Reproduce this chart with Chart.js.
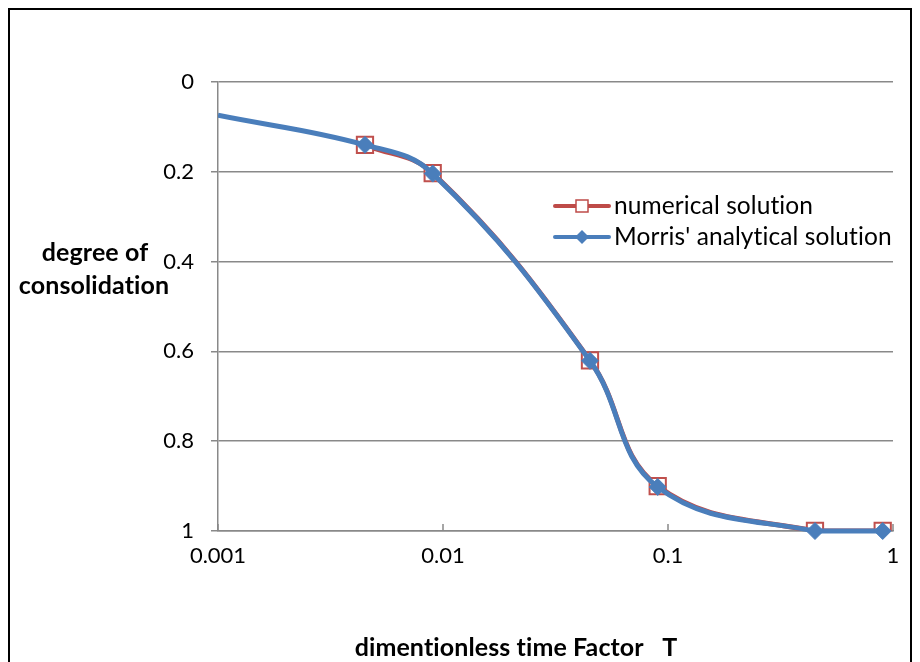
<!DOCTYPE html>
<html>
<head>
<meta charset="utf-8">
<script src="https://cdn.jsdelivr.net/npm/chart.js@4.4.0/dist/chart.umd.min.js"></script>
<style>
  html, body { margin: 0; padding: 0; background: #fff; overflow: hidden; }
  #wrap { position: relative; width: 920px; height: 662px; }
  #frame { position: absolute; left: 8px; top: 8px; width: 904px; height: 700px; border: 2px solid #000; box-sizing: border-box; }
  canvas { position: absolute; left: 0; top: 0; }
</style>
</head>
<body>
<div id="wrap">
  <div id="frame"></div>
  <canvas id="chart" width="920" height="662"></canvas>
</div>
<script>
// dimensionless time factor T and degree of consolidation U
const timeFactor = [0.0045, 0.009, 0.045, 0.09, 0.45, 0.9];
const numerical = [0.14, 0.203, 0.62, 0.9, 1.0, 1.0];
const morrisT = [0.001, 0.0045, 0.009, 0.045, 0.09, 0.45, 0.9];
const morris = [0.074, 0.14, 0.204, 0.621, 0.902, 1.0, 1.0];
const xTicks = [0.001, 0.01, 0.1, 1];
const xTickLabels = ['0.001', '0.01', '0.1', '1'];
const legendLabels = ['numerical solution', "Morris' analytical solution"];

const RED = '#BE4B48';
const BLUE = '#4A7EBB';
const GRID = '#898989';
const FONT = 'Lato';

const toPoints = (xs, ys) => xs.map((x, i) => ({ x: x, y: ys[i] }));

const extras = {
  id: 'extras',
  afterDraw(chart) {
    const ctx = chart.ctx;
    const x = chart.scales.x;
    const area = chart.chartArea;
    ctx.save();
    // tick marks on the x axis point into the plot
    ctx.strokeStyle = GRID;
    ctx.lineWidth = 1.5;
    xTicks.forEach(v => {
      const px = Math.round(x.getPixelForValue(v));
      ctx.beginPath();
      ctx.moveTo(px, area.bottom);
      ctx.lineTo(px, area.bottom - 7);
      ctx.stroke();
    });

    // axis titles (letter spacing keeps the "ti" ligature off)
    ctx.letterSpacing = '0.1px';
    ctx.fillStyle = '#000';
    ctx.textAlign = 'center';
    ctx.textBaseline = 'middle';
    ctx.font = 'bold 25px ' + FONT;
    ctx.fillText('degree of', 95, 253);
    ctx.fillText('consolidation', 94, 286);
    ctx.fillText('dimentionless time Factor   T', 516, 648);

    // legend
    ctx.font = '24.5px ' + FONT;
    ctx.textAlign = 'left';
    const rows = [
      { y: 206, color: RED, marker: 'rect' },
      { y: 237, color: BLUE, marker: 'diamond' }
    ];
    rows.forEach((r, i) => {
      ctx.strokeStyle = r.color;
      ctx.lineWidth = 4;
      ctx.lineCap = 'round';
      ctx.beginPath();
      ctx.moveTo(555, r.y);
      ctx.lineTo(609, r.y);
      ctx.stroke();
      if (r.marker === 'rect') {
        ctx.fillStyle = '#fff';
        ctx.fillRect(576, r.y - 6, 12, 12);
        ctx.lineWidth = 1.5;
        ctx.strokeRect(576, r.y - 6, 12, 12);
      } else {
        ctx.fillStyle = r.color;
        ctx.beginPath();
        ctx.moveTo(582, r.y - 7);
        ctx.lineTo(589, r.y);
        ctx.lineTo(582, r.y + 7);
        ctx.lineTo(575, r.y);
        ctx.closePath();
        ctx.fill();
      }
      ctx.fillStyle = '#000';
      ctx.fillText(legendLabels[i], 614, r.y);
    });
    ctx.restore();
  }
};

new Chart(document.getElementById('chart').getContext('2d'), {
  type: 'line',
  data: {
    datasets: [
      {
        label: legendLabels[0],
        data: toPoints(timeFactor, numerical),
        borderColor: RED,
        borderWidth: 5,
        tension: 0.4,
        pointStyle: 'rect',
        pointRadius: 11.5,
        pointBorderWidth: 2,
        pointBorderColor: '#C0504D',
        pointBackgroundColor: '#fff',
        order: 2
      },
      {
        label: legendLabels[1],
        data: toPoints(morrisT, morris),
        borderColor: BLUE,
        borderWidth: 5,
        tension: 0.4,
        pointStyle: 'rectRot',
        pointRadius: ctx => ctx.dataIndex === 0 ? 0 : 8.5,
        pointBorderWidth: 1,
        pointBorderColor: BLUE,
        pointBackgroundColor: BLUE,
        clip: { left: 0, top: 12, right: 12, bottom: 12 },
        order: 1
      }
    ]
  },
  options: {
    responsive: false,
    animation: false,
    devicePixelRatio: 1,
    layout: { padding: { top: 82, right: 27, left: 0, bottom: 0 } },
    plugins: {
      legend: { display: false },
      tooltip: { enabled: false }
    },
    scales: {
      x: {
        type: 'logarithmic',
        min: 0.001,
        max: 1,
        afterBuildTicks: s => { s.ticks = xTicks.map(v => ({ value: v })); },
        afterFit: s => { s.height = 131; },
        ticks: {
          autoSkip: false,
          maxRotation: 0,
          padding: 12,
          color: '#000',
          font: { family: FONT, size: 22 },
          callback: (val, index) => xTickLabels[index]
        },
        grid: { drawOnChartArea: false, drawTicks: false },
        border: { color: GRID, width: 1.5 }
      },
      y: {
        min: 0,
        max: 1,
        reverse: true,
        afterFit: s => { s.width = 218; },
        ticks: {
          stepSize: 0.2,
          padding: 17,
          color: '#000',
          font: { family: FONT, size: 22 },
          callback: v => String(Number(v.toFixed(2)))
        },
        grid: { color: GRID, lineWidth: 1.5, tickLength: 7 },
        border: { color: GRID, width: 1.5 }
      }
    }
  },
  plugins: [extras]
});
</script>
</body>
</html>
